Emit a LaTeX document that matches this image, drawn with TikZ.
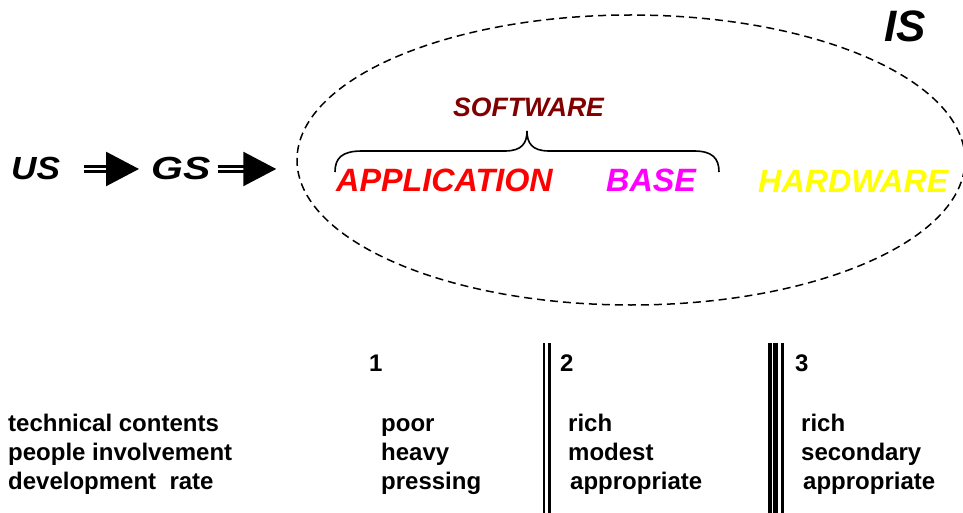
\documentclass[tikz,border=0pt]{standalone}
\usepackage{fontspec}
\setmainfont{Liberation Sans}
\usetikzlibrary{arrows.meta,shapes.geometric}
\definecolor{swred}{HTML}{800000}
\definecolor{appred}{HTML}{FF0000}
\definecolor{basemag}{HTML}{FF00FF}
\definecolor{hwyel}{HTML}{FFFF00}
\begin{document}
\begin{tikzpicture}[x=1pt,y=-1pt,
  big/.style={font=\fontsize{32.3}{36}\selectfont\bfseries\itshape, inner sep=0pt, anchor=base west},
  cell/.style={font=\fontsize{24}{28}\selectfont\bfseries, inner sep=0pt, anchor=base west},
  flow/.style={double, double distance=2.5pt, line width=2.5pt, -{Triangle[length=33pt,width=34pt]}},
  bound/.style={dash pattern=on 8pt off 5pt, line width=1.5pt},
  rule/.style={line width=#1}
]
\useasboundingbox (0,0) rectangle (963,513);
\clip (0,0) rectangle (963,513);

% information system boundary
\node[draw, bound, ellipse, minimum width=668pt, minimum height=290pt, inner sep=0pt] (sys) at (631,160) {};
\node[big, font=\fontsize{44}{50}\selectfont\bfseries\itshape] (is) at (884,42) {IS};

% user system -> general system -> information system
\node[big, font=\fontsize{32}{36}\selectfont\bfseries\itshape] (us) at (11,180) {\scalebox{1.1}[1]{US}};
\node[big, font=\fontsize{32}{36}\selectfont\bfseries\itshape] (gs) at (151,180) {\scalebox{1.28}[1]{GS}};
\draw[flow, shorten <=24pt, shorten >=12pt] (us.east) -- (us.east -| gs.west);
\draw[flow, shorten <=7pt, shorten >=20pt] (gs.east) -- (gs.east -| sys.west);

% components
\node[big, font=\fontsize{26.6}{30}\selectfont\bfseries\itshape, text=swred] (sw) at (453,117) {SOFTWARE};
\node[big, text=appred] (app) at (336,192) {APPLICATION};
\node[big, text=basemag] (base) at (606,192) {BASE};
\node[big, text=hwyel] (hw) at (758,193) {HARDWARE};
\draw[line width=1.6pt] (335,172) .. controls (335,158) and (342,151) .. (362,151) -- (505,151)
  .. controls (522,151) and (527,143) .. (527,131)
  .. controls (527,143) and (532,151) .. (549,151) -- (694,151)
  .. controls (712,151) and (719,158) .. (719,172);

% column separators
\draw[rule=2.6pt] (543.8,343) -- (543.8,513);
\draw[rule=2.6pt] (549.2,343) -- (549.2,513);
\draw[rule=3.3pt] (770,343) -- (770,513);
\draw[rule=5pt] (775.8,343) -- (775.8,513);
\draw[rule=3.3pt] (782.3,343) -- (782.3,513);

% table
\node[cell] (h1) at (369,371) {1};
\node[cell] (h2) at (560,371) {2};
\node[cell] (h3) at (795,371) {3};

\node[cell] (r1) at (8,431) {technical contents};
\node[cell] (r2) at (8,460) {people involvement};
\node[cell] (r3) at (8,489) {development\ \ rate};

\node[cell] (c11) at (381,431) {poor};
\node[cell] (c12) at (381,460) {heavy};
\node[cell] (c13) at (381,489) {pressing};

\node[cell] (c21) at (568,431) {rich};
\node[cell] (c22) at (568,460) {modest};
\node[cell] (c23) at (570,489) {appropriate};

\node[cell] (c31) at (801,431) {rich};
\node[cell] (c32) at (801,460) {secondary};
\node[cell] (c33) at (803,489) {appropriate};
\end{tikzpicture}
\end{document}
